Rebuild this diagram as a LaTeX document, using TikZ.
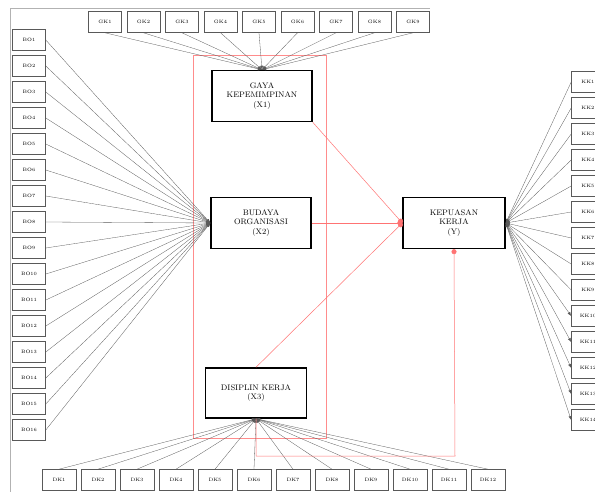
\documentclass[tikz,border=0pt]{standalone}
\usepackage{tikz}
\usetikzlibrary{arrows.meta}

\begin{document}
\begin{tikzpicture}[
  x=1pt, y=-1pt,
  indik/.style={rectangle, draw=gray!70!black, line width=0.6pt, fill=white,
                minimum width=33pt, minimum height=21pt, inner sep=0pt,
                font=\fontsize{4.8}{5.5}\selectfont},
  konstruk/.style={rectangle, draw, line width=1.4pt, fill=white,
                   minimum width=100pt, minimum height=51pt, align=center,
                   font=\fontsize{8}{9.5}\selectfont},
  muat/.style={-{Latex[length=4pt,width=3pt]}, gray!70!black, line width=0.3pt},
  jalur/.style={-{Circle[length=5pt]}, red!55, line width=0.5pt}
]
\useasboundingbox (0,0) rectangle (595,492);

% outer frame
\draw[gray!60] (10,492) -- (10,8) -- (430,8);

% block of exogenous variables
\draw[red!45, line width=0.5pt] (193,55) rectangle (326,438);

\node[konstruk] (x1) at (262,96) {GAYA\\KEPEMIMPINAN\\(X1)};
\node[konstruk] (x2) at (261,223) {BUDAYA\\ORGANISASI\\(X2)};
\node[konstruk, minimum width=101pt, minimum height=50pt] (x3) at (256,393) {DISIPLIN KERJA\\(X3)};
\node[konstruk, minimum width=102pt] (y) at (454,223) {KEPUASAN\\KERJA\\(Y)};

% indicators
\foreach \i in {1,...,9}
  \node[indik] (gk\i) at ({105+38.5*(\i-1)},22) {GK\i};
\foreach \i in {1,...,16}
  \node[indik] (bo\i) at (29,{40+26*(\i-1)}) {BO\i};
\foreach \i in {1,...,14}
  \node[indik] (kk\i) at (588,{82+26*(\i-1)}) {KK\i};
\foreach \i in {1,...,12}
  \node[indik, minimum width=34pt] (dk\i) at ({59+39*(\i-1)},480) {DK\i};

% loadings
\foreach \i in {1,...,9} {
  \draw[muat] (gk\i.south) -- (x1.north);
}
\foreach \i in {1,...,16} {
  \draw[muat] (bo\i.east) -- (x2.west);
}
\foreach \i in {1,...,9} {
  \draw[muat] (kk\i.west) -- (y.east);
}
\foreach \i in {10,...,14} {
  \draw[muat, {Latex[length=4pt,width=3pt]}-{Latex[length=4pt,width=3pt]}] (kk\i.west) -- (y.east);
}
\foreach \i in {1,...,12} {
  \draw[muat] (dk\i.north) -- (x3.south);
}

% structural paths
\coordinate (belok) at (455,456);
\draw[jalur] (x1.south east) -- (y.west);
\draw[jalur] (x2.east) -- (y.west);
\draw[jalur] (x3.north) -- (y.west);
\draw[jalur] (x3.south) |- (belok) -- (y.south);

\end{tikzpicture}
\end{document}
